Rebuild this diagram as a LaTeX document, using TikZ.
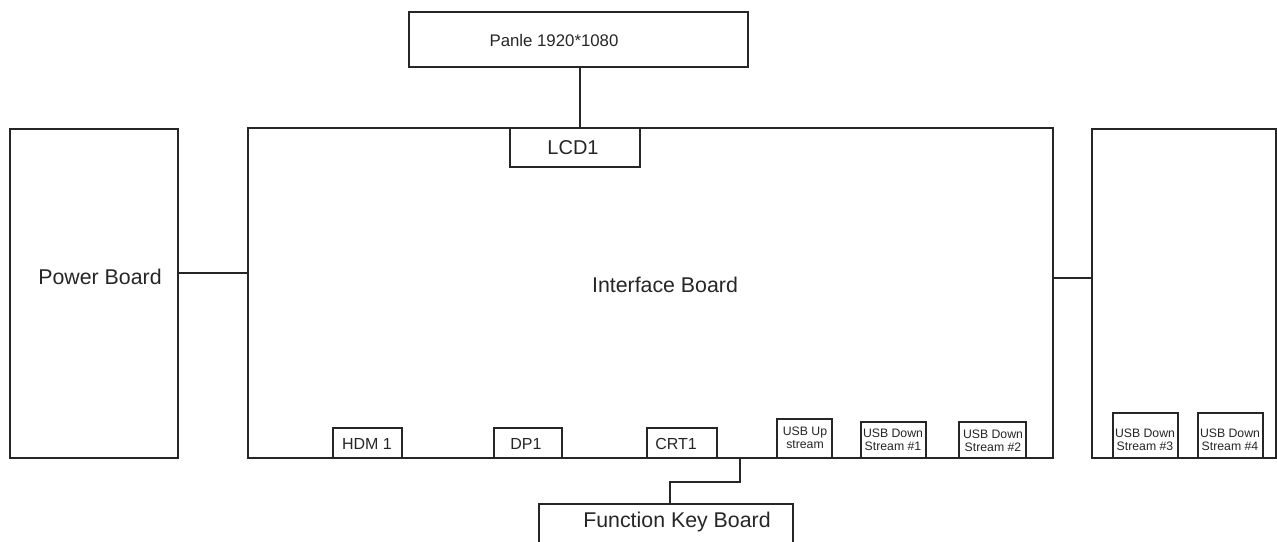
\documentclass[tikz,border=0pt]{standalone}
\usepackage{fontspec}
\setmainfont{Liberation Sans}
\usetikzlibrary{fit}
\begin{document}
\begin{tikzpicture}[x=0.75pt,y=-0.75pt,
  box/.style={draw=black!85,line width=1.3pt,inner sep=0pt,rectangle},
  wire/.style={draw=black!85,line width=1.3pt},
  lbl/.style={inner sep=0pt,text=black!85,align=center},
  big/.style={lbl,font=\fontsize{16}{18}\selectfont},
  mid/.style={lbl,font=\fontsize{12}{14}\selectfont},
  usb/.style={lbl,font=\fontsize{9.2}{10}\selectfont}]
\useasboundingbox[fill=white] (0,0) rectangle (1277,542);
% main boards
\node[box,fit={(409,12)(748,67)}] (panle) {};
\node[box,fit={(10,129)(178,458)}] (power) {};
\node[box,fit={(248,128)(1053,458)}] (iface) {};
\node[box,fit={(1092,129)(1276,458)}] (right) {};
\node[box,fit={(539,504)(793,546)}] (fkb) {};
% connectors on interface board
\node[box,fill=white,fit={(510,128)(640,167)}] (lcd) {};
\node[box,fit={(333,428)(402,458)}] (hdmi) {};
\node[box,fit={(494,428)(562,458)}] (dp) {};
\node[box,fit={(647,428)(717,458)}] (crt) {};
\node[box,fit={(777,419)(832,458)}] (usbup) {};
\node[box,fit={(861,422)(926,458)}] (usbd1) {};
\node[box,fit={(959,422)(1026,458)}] (usbd2) {};
\node[box,fit={(1113,413)(1178,458)}] (usbd3) {};
\node[box,fit={(1198,413)(1263,458)}] (usbd4) {};
% labels
\node[lbl,font=\fontsize{12.6}{14}\selectfont] (tpanle) at (554,40) {Panle 1920*1080};
\node[big] (tpower) at (100,277) {Power Board};
\node[big] (tiface) at (665,285) {Interface Board};
\node[lbl,font=\fontsize{15}{17}\selectfont] (tlcd) at (573,148) {LCD1};
\node[big] (tfkb) at (677,522) {Function Key Board};
\node[mid] (thdmi) at (367,444) {HDM 1};
\node[mid] (tdp) at (526,444) {DP1};
\node[mid] (tcrt) at (676,444) {CRT1};
\node[usb] (tusbup) at (805,438) {USB Up\\stream};
\node[usb] (tusbd1) at (893,440) {USB Down\\Stream \#1};
\node[usb] (tusbd2) at (993,441) {USB Down\\Stream \#2};
\node[usb] (tusbd3) at (1145,440) {USB Down\\Stream \#3};
\node[usb] (tusbd4) at (1230,440) {USB Down\\Stream \#4};
% wires
\coordinate (pdrop) at (580,67);
\draw[wire] (pdrop) -- (pdrop |- iface.north);
\draw[wire] (power.east |- 0,273) -- (iface.west |- 0,273);
\draw[wire] (iface.east |- 0,278) -- (right.west |- 0,278);
\coordinate (fkstart) at (740,458);
\coordinate (fkend) at (670,504);
\draw[wire] (fkstart) |- (fkend |- 0,482) -- (fkend);
\end{tikzpicture}
\end{document}
